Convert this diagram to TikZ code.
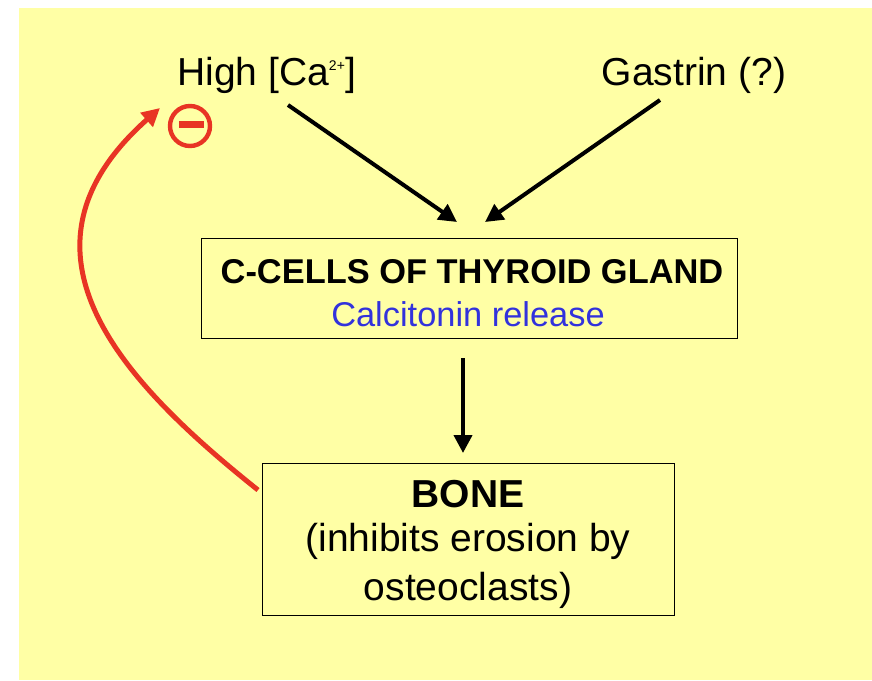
\documentclass[tikz,border=0pt]{standalone}
\usepackage{fontspec}
\setmainfont{Liberation Sans}
\usetikzlibrary{arrows.meta}
\definecolor{bgyellow}{RGB}{255,255,165}
\definecolor{minusred}{RGB}{232,52,36}
\definecolor{relblue}{RGB}{50,50,220}
\tikzset{
  big/.style={font=\fontsize{19.5}{24.5}\selectfont},
  mid/.style={font=\fontsize{17.2}{20}\selectfont},
  arr/.style={-{Triangle[length=9pt,width=9pt]}, line width=2pt},
}
\begin{document}
\begin{tikzpicture}[x=0.5pt,y=-0.5pt]
    \useasboundingbox (0,0) rectangle (872,680);
    \fill [bgyellow] (19,8) rectangle (872,680);

    \node [big] (ca)  at (267,75) {High [Ca\textsuperscript{\scriptsize 2+}]};
    \node [big] (gas) at (694,75) {Gastrin (?)};

    \draw [thin] (201,238) rectangle (737,338);
    \node [mid, font=\fontsize{17.2}{20}\selectfont\bfseries] (cc) at (472,272) {C-CELLS OF THYROID GLAND};
    \node [mid, text=relblue] (calc) at (468,314) {Calcitonin release};

    \draw [thin] (262,463) rectangle (674,615);
    \node [big, font=\fontsize{19.5}{24.5}\selectfont\bfseries] (bone) at (468,494) {BONE};
    \node [big, align=center] (inh) at (468,566) {(inhibits erosion by\\ osteoclasts)};

    \coordinate (celldown) at (463,358);
    \coordinate (bonetop)  at (463,453);
    \coordinate (boneleft) at (258,490);
    \coordinate (minustip) at (160,108);

    \draw [arr] (288,105) -- (457,222);
    \draw [arr] (660,100) -- (485,222);
    \draw [arr] (celldown) -- (bonetop);

    \draw [arr, minusred, line width=2.5pt] (boneleft)
        .. controls (120,380) and (0,250) .. (minustip);
    \node (minus) at (190,126) [circle, draw=minusred, line width=2.2pt, minimum size=20pt, inner sep=0pt] {};
    \fill [minusred] (179,121) rectangle (204,128);
\end{tikzpicture}
\end{document}
